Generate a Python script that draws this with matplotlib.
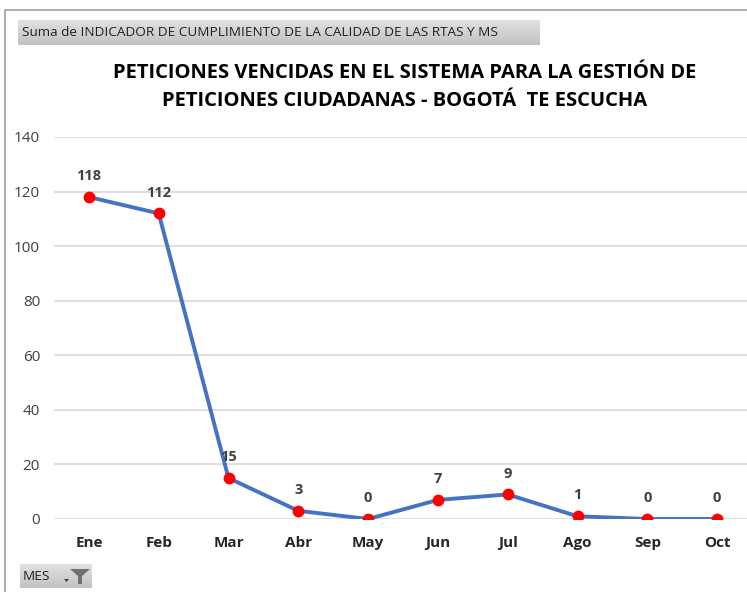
import numpy as np
import matplotlib.pyplot as plt
from matplotlib.patches import Rectangle, Polygon
from matplotlib.lines import Line2D

# === datos ===
meses = ["Ene", "Feb", "Mar", "Abr", "May", "Jun", "Jul", "Ago", "Sep", "Oct"]
vencidas = [118, 112, 15, 3, 0, 7, 9, 1, 0, 0]
y_ticks = [0, 20, 40, 60, 80, 100, 120, 140]

titulo = "PETICIONES VENCIDAS EN EL SISTEMA PARA LA GESTIÓN DE\nPETICIONES CIUDADANAS - BOGOTÁ  TE ESCUCHA"
campo_valor = "Suma de INDICADOR DE CUMPLIMIENTO DE LA CALIDAD DE LAS RTAS Y MS"
campo_eje = "MES"

plt.rcParams['font.family'] = ['Open Sans', 'DejaVu Sans']

fig = plt.figure(figsize=(7.47, 5.92), dpi=100)
W, H = 747, 592

def fx(px):
    return px / W

def fy(py):
    return 1 - py / H

# marco del grafico
fig.add_artist(Line2D([fx(5), fx(5), fx(747)], [fy(592), fy(10), fy(10)],
                      color="#a0a0a0", lw=1.2))

ax = fig.add_axes([fx(54), fy(519), fx(752) - fx(54), fy(137) - fy(519)])
x = list(range(len(meses)))
ax.plot(x, vencidas, color="#4472C4", lw=2.8, zorder=3)
ax.plot(x, vencidas, "o", color="#ff0000", ms=7.5, zorder=4)
for xi, v in zip(x, vencidas):
    ax.annotate(str(v), (xi, v), xytext=(0, 10), textcoords="offset points",
                ha="center", va="bottom", fontsize=10.5, fontweight="bold",
                color="#404040")

ax.set_xlim(-0.5, len(meses) - 0.5)
ax.set_ylim(0, 140)
ax.set_yticks(y_ticks)
ax.set_xticks(x)
ax.set_xticklabels(meses, fontsize=11, fontweight="bold", color="#262626")
ax.tick_params(axis="y", labelsize=11, labelcolor="#404040", length=0, pad=10)
ax.tick_params(axis="x", length=0, pad=12)
ax.grid(axis="y", color="#d9d9d9", lw=1.2)
ax.set_axisbelow(True)
for s in ax.spines.values():
    s.set_visible(False)

fig.text(fx(405), fy(87), titulo, ha="center", va="center", fontsize=14.5,
         fontweight="bold", color="#000000", linespacing=1.5)

# botones de campo de la tabla dinamica (degradado gris)
grad = np.linspace(0.88, 0.76, 50).reshape(-1, 1)
for (x0, x1, y0, y1) in [(18, 540, 20, 45), (20, 92, 564, 588)]:
    bax = fig.add_axes([fx(x0), fy(y1), fx(x1) - fx(x0), fy(y0) - fy(y1)])
    bax.imshow(grad, cmap="gray", vmin=0, vmax=1, aspect="auto",
               extent=[0, 1, 0, 1], origin="upper")
    bax.set_axis_off()

fig.text(fx(22), fy(33), campo_valor, ha="left", va="center", fontsize=9.7,
         color="#202020")
fig.text(fx(23), fy(576), campo_eje, ha="left", va="center", fontsize=9.7,
         color="#202020")
fig.add_artist(Polygon([(fx(70), fy(569)), (fx(90), fy(569)), (fx(82), fy(576)),
                        (fx(82), fy(584)), (fx(78), fy(584)), (fx(78), fy(576))],
                       closed=True, facecolor="#707070", edgecolor="none"))
fig.add_artist(Polygon([(fx(64), fy(579)), (fx(69), fy(579)), (fx(66.5), fy(582))],
                       closed=True, facecolor="#404040", edgecolor="none"))

fig.savefig("out.png", dpi=100)
